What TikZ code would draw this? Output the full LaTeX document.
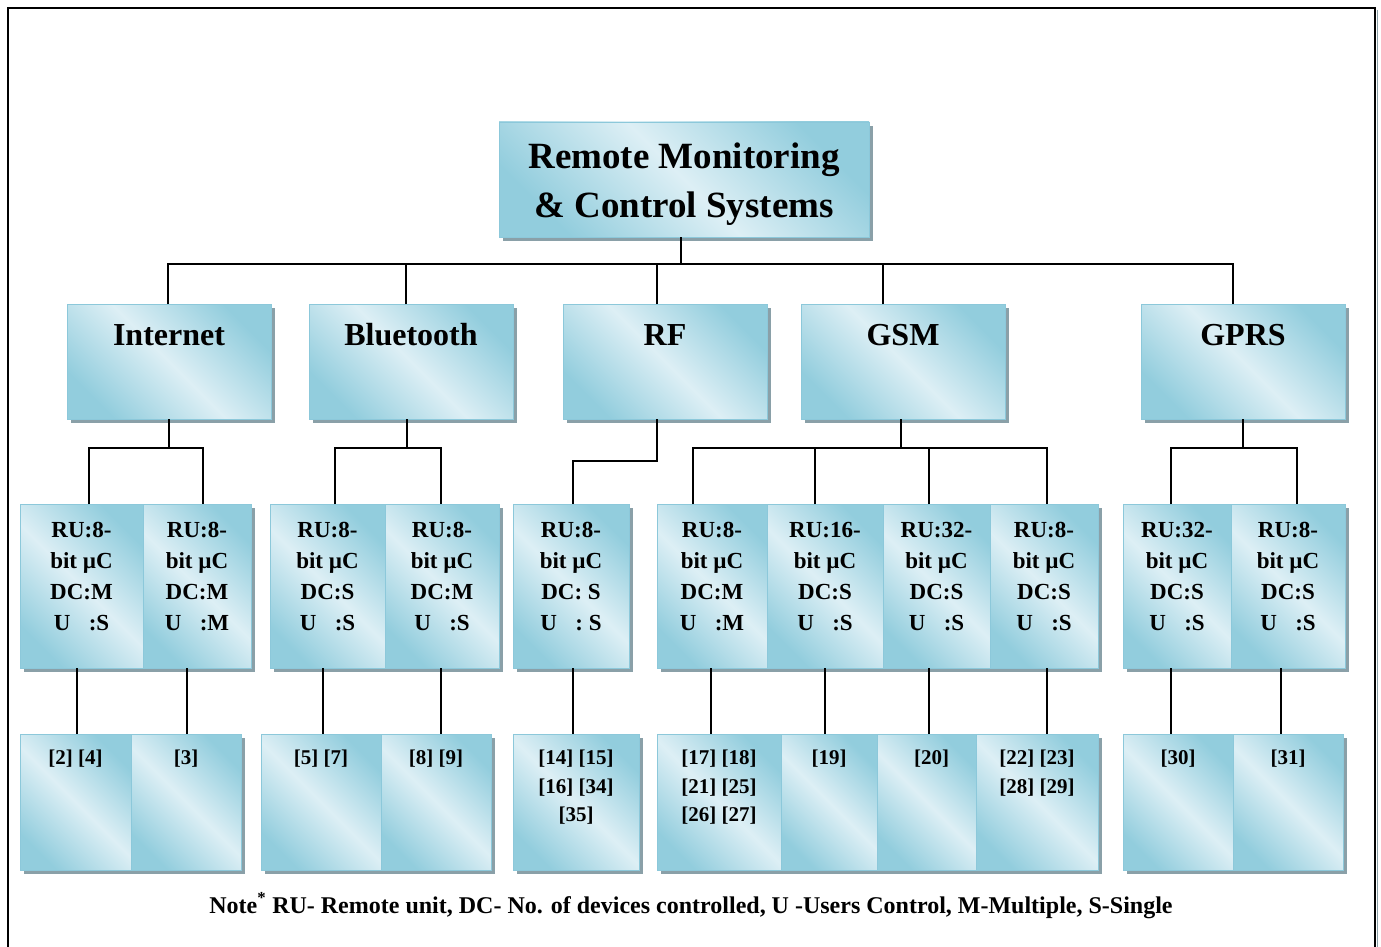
\documentclass[tikz,border=0pt]{standalone}
\usepackage{fontspec}
\setmainfont{Liberation Serif}
\usetikzlibrary{shadows}
\definecolor{boxdark}{RGB}{146,205,221}
\definecolor{boxlight}{RGB}{221,239,245}
\definecolor{boxborder}{RGB}{140,200,218}
\definecolor{shadowc}{RGB}{138,160,168}
\newcommand{\mytitlefont}{\fontsize{37}{49}\selectfont\bfseries}
\newcommand{\mylvtwofont}{\fontsize{32}{38}\selectfont\bfseries}
\newcommand{\mylvthreefont}{\fontsize{23}{31}\selectfont\bfseries}
\newcommand{\mylvfourfont}{\fontsize{21}{28.5}\selectfont\bfseries}
\newcommand{\mynotefont}{\fontsize{24}{28}\selectfont\bfseries}
\begin{document}
\begin{tikzpicture}[x=1pt,y=-1pt,
  box/.style={draw=boxborder, line width=0.8pt,
    top color=boxdark, bottom color=boxdark, middle color=boxlight, shading angle=-45,
    inner sep=0pt, outer sep=0pt,
    drop shadow={shadow xshift=4pt, shadow yshift=-4pt, fill=shadowc, opacity=1}},
  lvone/.style={anchor=center, yshift=-4.5pt, inner sep=0pt, align=center, font=\mytitlefont},
  lvtwo/.style={anchor=base, yshift=-41pt, inner sep=0pt, font=\mylvtwofont},
  lvthree/.style={anchor=north, yshift=-18pt, inner sep=0pt, align=center, font=\mylvthreefont},
  lvfour/.style={anchor=north, yshift=-16pt, inner sep=0pt, align=center, font=\mylvfourfont},
  conn/.style={draw=black, line width=1.3pt}
]
\useasboundingbox (0,0) rectangle (1381,947);
\fill[white] (0,0) rectangle (1381,947);
% outer frame
\draw[line width=2pt] (7.5,960) -- (7.5,8.5) -- (1375,8.5) -- (1375,960);
\draw[line width=1pt, shadowc] (1377,10) -- (1377,960);

% title
\node[box, minimum width=370pt, minimum height=115pt, label={[lvone]center:{Remote Monitoring\\\& Control Systems}}] (title) at (684,179.5) {};

% level 2
\node[box, minimum width=204pt, minimum height=115pt, label={[lvtwo]north:{Internet}}] (inet) at (169,361.5) {};
\node[box, minimum width=204pt, minimum height=115pt, label={[lvtwo]north:{Bluetooth}}] (bt) at (411,361.5) {};
\node[box, minimum width=204pt, minimum height=115pt, label={[lvtwo]north:{RF}}] (rf) at (665,361.5) {};
\node[box, minimum width=204pt, minimum height=115pt, label={[lvtwo]north:{GSM}}] (gsm) at (903,361.5) {};
\node[box, minimum width=204pt, minimum height=115pt, label={[lvtwo]north:{GPRS}}] (gprs) at (1243,361.5) {};

% level 3
\node[box, minimum width=123pt, minimum height=164pt, label={[lvthree]north:{RU:8-\\bit µC\\DC:M\\U\hspace{0.8em}:S}}] (a1) at (81.5,586) {};
\node[box, minimum width=108pt, minimum height=164pt, label={[lvthree]north:{RU:8-\\bit µC\\DC:M\\U\hspace{0.8em}:M}}] (a2) at (197,586) {};
\node[box, minimum width=115pt, minimum height=164pt, label={[lvthree]north:{RU:8-\\bit µC\\DC:S\\U\hspace{0.8em}:S}}] (b1) at (327.5,586) {};
\node[box, minimum width=114pt, minimum height=164pt, label={[lvthree]north:{RU:8-\\bit µC\\DC:M\\U\hspace{0.8em}:S}}] (b2) at (442,586) {};
\node[box, minimum width=116pt, minimum height=164pt, label={[lvthree]north:{RU:8-\\bit µC\\DC: S\\U\hspace{0.8em}: S}}] (c1) at (571,586) {};
\node[box, minimum width=110pt, minimum height=164pt, label={[lvthree]north:{RU:8-\\bit µC\\DC:M\\U\hspace{0.8em}:M}}] (d1) at (712,586) {};
\node[box, minimum width=116pt, minimum height=164pt, label={[lvthree]north:{RU:16-\\bit µC\\DC:S\\U\hspace{0.8em}:S}}] (d2) at (825,586) {};
\node[box, minimum width=107pt, minimum height=164pt, label={[lvthree]north:{RU:32-\\bit µC\\DC:S\\U\hspace{0.8em}:S}}] (d3) at (936.5,586) {};
\node[box, minimum width=108pt, minimum height=164pt, label={[lvthree]north:{RU:8-\\bit µC\\DC:S\\U\hspace{0.8em}:S}}] (d4) at (1044,586) {};
\node[box, minimum width=108pt, minimum height=164pt, label={[lvthree]north:{RU:32-\\bit µC\\DC:S\\U\hspace{0.8em}:S}}] (e1) at (1177,586) {};
\node[box, minimum width=114pt, minimum height=164pt, label={[lvthree]north:{RU:8-\\bit µC\\DC:S\\U\hspace{0.8em}:S}}] (e2) at (1288,586) {};

% level 4
\node[box, minimum width=111pt, minimum height=136pt, label={[lvfour]north:{[2] [4]}}] (f1) at (75.5,802) {};
\node[box, minimum width=110pt, minimum height=136pt, label={[lvfour]north:{[3]}}] (f2) at (186,802) {};
\node[box, minimum width=120pt, minimum height=136pt, label={[lvfour]north:{[5] [7]}}] (g1) at (321,802) {};
\node[box, minimum width=110pt, minimum height=136pt, label={[lvfour]north:{[8] [9]}}] (g2) at (436,802) {};
\node[box, minimum width=126pt, minimum height=136pt, label={[lvfour]north:{[14] [15]\\{}[16] [34]\\{}[35]}}] (h1) at (576,802) {};
\node[box, minimum width=124pt, minimum height=136pt, label={[lvfour]north:{[17] [18]\\{}[21] [25]\\{}[26] [27]}}] (i1) at (719,802) {};
\node[box, minimum width=96pt, minimum height=136pt, label={[lvfour]north:{[19]}}] (i2) at (829,802) {};
\node[box, minimum width=99pt, minimum height=136pt, label={[lvfour, xshift=5pt]north:{[20]}}] (i3) at (926.5,802) {};
\node[box, minimum width=122pt, minimum height=136pt, label={[lvfour]north:{[22] [23]\\{}[28] [29]}}] (i4) at (1037,802) {};
\node[box, minimum width=110pt, minimum height=136pt, label={[lvfour]north:{[30]}}] (j1) at (1178,802) {};
\node[box, minimum width=110pt, minimum height=136pt, label={[lvfour]north:{[31]}}] (j2) at (1288,802) {};

% note
\node[font=\mynotefont, anchor=base, inner sep=0pt] (note) at (691,913) {Note\textsuperscript{*} RU- Remote unit, DC- No. of devices controlled, U -Users Control, M-Multiple, S-Single};

% connectors: title to level 2
\draw[conn] ([xshift=-3pt]title.south) -- ++(0,27);
\draw[conn] ([xshift=-1pt]inet.north) -- ++(0,-40) -| ([xshift=-10pt]gprs.north);
\draw[conn] ([xshift=-5pt]bt.north) -- ++(0,-40);
\draw[conn] ([xshift=-8pt]rf.north) -- ++(0,-40);
\draw[conn] ([xshift=-20pt]gsm.north) -- ++(0,-40);

% level 2 to level 3
\draw[conn] (inet.south) -- ++(0,29);
\draw[conn] ([xshift=7.5pt]a1.north) -- ++(0,-56) -| ([xshift=6pt]a2.north);
\draw[conn] ([xshift=-4pt]bt.south) -- ++(0,29);
\draw[conn] ([xshift=7.5pt]b1.north) -- ++(0,-56) -| ([xshift=-1pt]b2.north);
\draw[conn] ([xshift=-8pt]rf.south) -- ++(0,42) -| ([xshift=2pt]c1.north);
\draw[conn] ([xshift=-2pt]gsm.south) -- ++(0,29);
\draw[conn] ([xshift=-19pt]d1.north) -- ++(0,-56) -| ([xshift=3pt]d4.north);
\draw[conn] ([xshift=-10pt]d2.north) -- ++(0,-56);
\draw[conn] ([xshift=-7.5pt]d3.north) -- ++(0,-56);
\draw[conn] (gprs.south) -- ++(0,29);
\draw[conn] ([xshift=-6pt]e1.north) -- ++(0,-56) -| ([xshift=9pt]e2.north);

% level 3 to level 4
\draw[conn] ([xshift=-4.5pt]a1.south) -- ([xshift=1.5pt]f1.north);
\draw[conn] ([xshift=-10pt]a2.south) -- ([xshift=1pt]f2.north);
\draw[conn] ([xshift=-4.5pt]b1.south) -- ([xshift=2pt]g1.north);
\draw[conn] ([xshift=-1pt]b2.south) -- ([xshift=5pt]g2.north);
\draw[conn] ([xshift=2pt]c1.south) -- ([xshift=-3pt]h1.north);
\draw[conn] ([xshift=-1pt]d1.south) -- ([xshift=-8pt]i1.north);
\draw[conn] (d2.south) -- ([xshift=-4pt]i2.north);
\draw[conn] ([xshift=-7.5pt]d3.south) -- ([xshift=2.5pt]i3.north);
\draw[conn] ([xshift=3pt]d4.south) -- ([xshift=10pt]i4.north);
\draw[conn] ([xshift=-6pt]e1.south) -- ([xshift=-7pt]j1.north);
\draw[conn] ([xshift=-7pt]e2.south) -- ([xshift=-7pt]j2.north);
\end{tikzpicture}
\end{document}
